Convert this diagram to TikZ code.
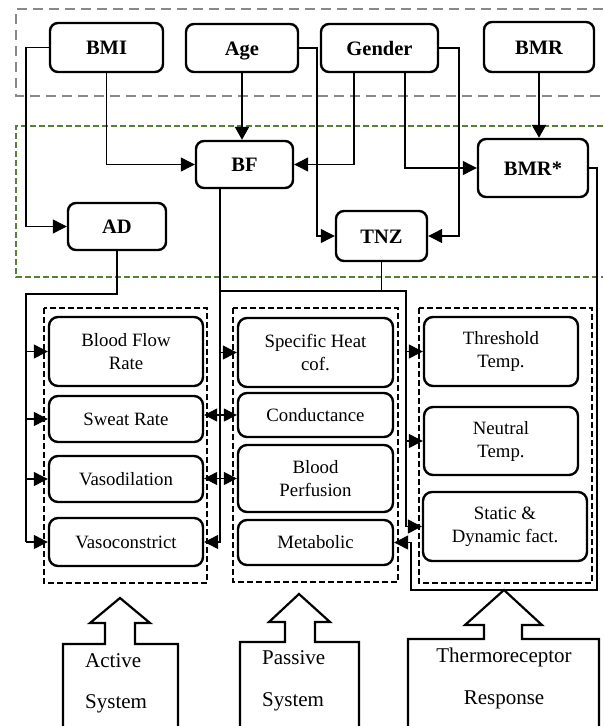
\documentclass[tikz,border=0pt]{standalone}
\usepackage{fontspec}
\setmainfont{Liberation Serif}
\usetikzlibrary{arrows.meta}
\definecolor{dgreen}{RGB}{84,130,53}
\definecolor{dgrey}{RGB}{136,136,136}
\tikzset{
  topbox/.style={draw, line width=2.4pt, rounded corners=8pt, inner sep=0pt, align=center,
    text height=14pt, text depth=0pt,
    font=\bfseries\fontsize{20.5}{24}\selectfont},
  inbox/.style={draw, line width=2.4pt, rounded corners=9pt, inner sep=0pt, align=center,
    font=\fontsize{18.8}{23}\selectfont},
  conn/.style={line width=1.2pt},
  arr/.style={-{Triangle[length=14pt,width=14pt]}},
  dblarr/.style={{Triangle[length=13pt,width=13pt]}-{Triangle[length=13pt,width=13pt]}},
  thickarr/.style={line width=2.2pt, -{Triangle[length=13pt,width=14pt]}},
  dbox/.style={line width=2pt, dash pattern=on 6pt off 3pt},
  blockarrow/.style={line width=2.2pt},
  btext/.style={inner sep=0pt, font=\fontsize{21}{24}\selectfont}
}
\begin{document}
\begin{tikzpicture}[x=1pt,y=-1pt]
\useasboundingbox (0,0) rectangle (603,726);
\fill[white] (0,0) rectangle (603,726);

% grouping dashed frames
\draw[dgrey, line width=2pt, dash pattern=on 10pt off 6pt] (603,9) -- (16,9) -- (16,96) -- (603,96);
\draw[dgreen, line width=2pt, dash pattern=on 6pt off 3pt] (603,126) -- (16,126) -- (16,277) -- (603,277);

% top nodes
\node[topbox, minimum width=113pt, minimum height=49pt] (bmi) at (106.5,47.5) {BMI};
\node[topbox, minimum width=112pt, minimum height=48pt] (age) at (242,48) {Age};
\node[topbox, minimum width=117pt, minimum height=48pt] (gen) at (379.5,48) {Gender};
\node[topbox, minimum width=110pt, minimum height=50pt] (bmr) at (539,47) {BMR};

\node[topbox, minimum width=97pt, minimum height=47pt] (bf) at (244.5,164.5) {BF};
\node[topbox, minimum width=110pt, minimum height=58pt] (bmrs) at (533,168) {BMR*};
\node[topbox, minimum width=98pt, minimum height=47pt] (ad) at (117,226.5) {AD};
\node[topbox, minimum width=91pt, minimum height=50pt] (tnz) at (381.5,236) {TNZ};

% column frames
\draw[dbox] (44,308) rectangle (207,583);
\draw[dbox] (233,308) rectangle (398,582);
\draw[dbox] (419,308) rectangle (592,583);

% left column
\node[inbox, minimum width=154pt, minimum height=69pt] (bfr) at (126,351.5) {Blood Flow\\Rate};
\node[inbox, minimum width=154pt, minimum height=46pt] (sr) at (126,419) {Sweat Rate};
\node[inbox, minimum width=154pt, minimum height=46pt] (vd) at (126,479) {Vasodilation};
\node[inbox, minimum width=154pt, minimum height=48pt] (vc) at (126,542) {Vasoconstrict};
% middle column
\node[inbox, minimum width=155pt, minimum height=69pt] (sh) at (315.5,352.5) {Specific Heat\\cof.};
\node[inbox, minimum width=155pt, minimum height=44pt] (cd) at (315.5,415) {Conductance};
\node[inbox, minimum width=155pt, minimum height=67pt] (bp) at (315.5,478.5) {Blood\\Perfusion};
\node[inbox, minimum width=155pt, minimum height=45pt] (met) at (315.5,542.5) {Metabolic};
% right column
\node[inbox, minimum width=154pt, minimum height=69pt] (th) at (501,351.5) {Threshold\\Temp.};
\node[inbox, minimum width=154pt, minimum height=68pt] (nt) at (501,441) {Neutral\\Temp.};
\node[inbox, minimum width=164pt, minimum height=69pt] (sd) at (505,526.5) {Static \&\\Dynamic fact.};

% upper connectors
\draw[conn, arr] (bmi.west) -- (26,47.5) |- (ad.west);
\draw[conn, arr] (bmi.south) |- (bf.west);
\draw[thickarr] (age.south) -- (age.south |- bf.north);
\draw[conn, arr] (age.east) -- (317,48) |- (tnz.west);
\draw[conn, arr] ([xshift=-25.5pt]gen.south) |- (bf.east);
\draw[conn, arr] ([xshift=25.5pt]gen.south) |- (bmrs.west);
\draw[conn, arr] (gen.east) -- (459,48) |- (tnz.east);
\draw[thickarr] (bmr.south) -- (bmr.south |- bmrs.north);

% AD to active column
\coordinate (al) at (26,294);
\draw[conn] (ad.south) |- (al) -- (al |- vc.west);
\draw[conn, arr] (al |- bfr.west) -- (bfr.west);
\draw[conn, arr] (al |- sr.west) -- (sr.west);
\draw[conn, arr] (al |- vd.west) -- (vd.west);
\draw[conn, arr] (al |- vc.west) -- (vc.west);

% BF line
\coordinate (bfo) at ([xshift=-24.5pt]bf.south);
\draw[conn, arr] (bfo) |- (vc.east);
\draw[conn, arr] (bfo |- sh.west) -- (sh.west);

% TNZ line
\coordinate (tr) at (406,291);
\draw[conn] (tnz.south) |- (tr);
\draw[conn] (bfo |- tr) -- (tr) -- (tr |- sd.west);
\draw[conn, arr] (tr |- th.west) -- (th.west);
\draw[conn, arr] (tr |- nt.west) -- (nt.west);
\draw[conn, arr] (tr |- sd.west) -- (sd.west);

% BMR* line to metabolic
\draw[conn, arr] (bmrs.east) -- (597,168) -- (597,590) -- (411,590) |- (met.east);

% double arrows between columns
\draw[conn, dblarr] (cd.west -| sr.east) -- (cd.west);
\draw[conn, dblarr] (bp.west -| vd.east) -- (bp.west);

% block arrows
\draw[blockarrow] (63,730) -- (63,644) -- (105,644) -- (105,623) -- (90,623) -- (120,598) -- (150,623) -- (135,623) -- (135,644) -- (178,644) -- (178,730);
\draw[blockarrow] (240,730) -- (240,642) -- (285,642) -- (285,622) -- (269,622) -- (299,594) -- (330,622) -- (315,622) -- (315,642) -- (359,642) -- (359,730);
\draw[blockarrow] (408,730) -- (408,639) -- (484,639) -- (484,625) -- (465,625) -- (504,590) -- (542,625) -- (522,625) -- (522,639) -- (599,639) -- (599,730);

\node[btext, anchor=mid west] (a1) at (85,665) {Active};
\node[btext, anchor=mid west] (a2) at (85,706) {System};
\node[btext, anchor=mid west] (p1) at (262,662) {Passive};
\node[btext, anchor=mid west] (p2) at (262,704) {System};
\node[btext, anchor=mid] (t1) at (504,660) {Thermoreceptor};
\node[btext, anchor=mid] (t2) at (504,702) {Response};
\end{tikzpicture}
\end{document}
